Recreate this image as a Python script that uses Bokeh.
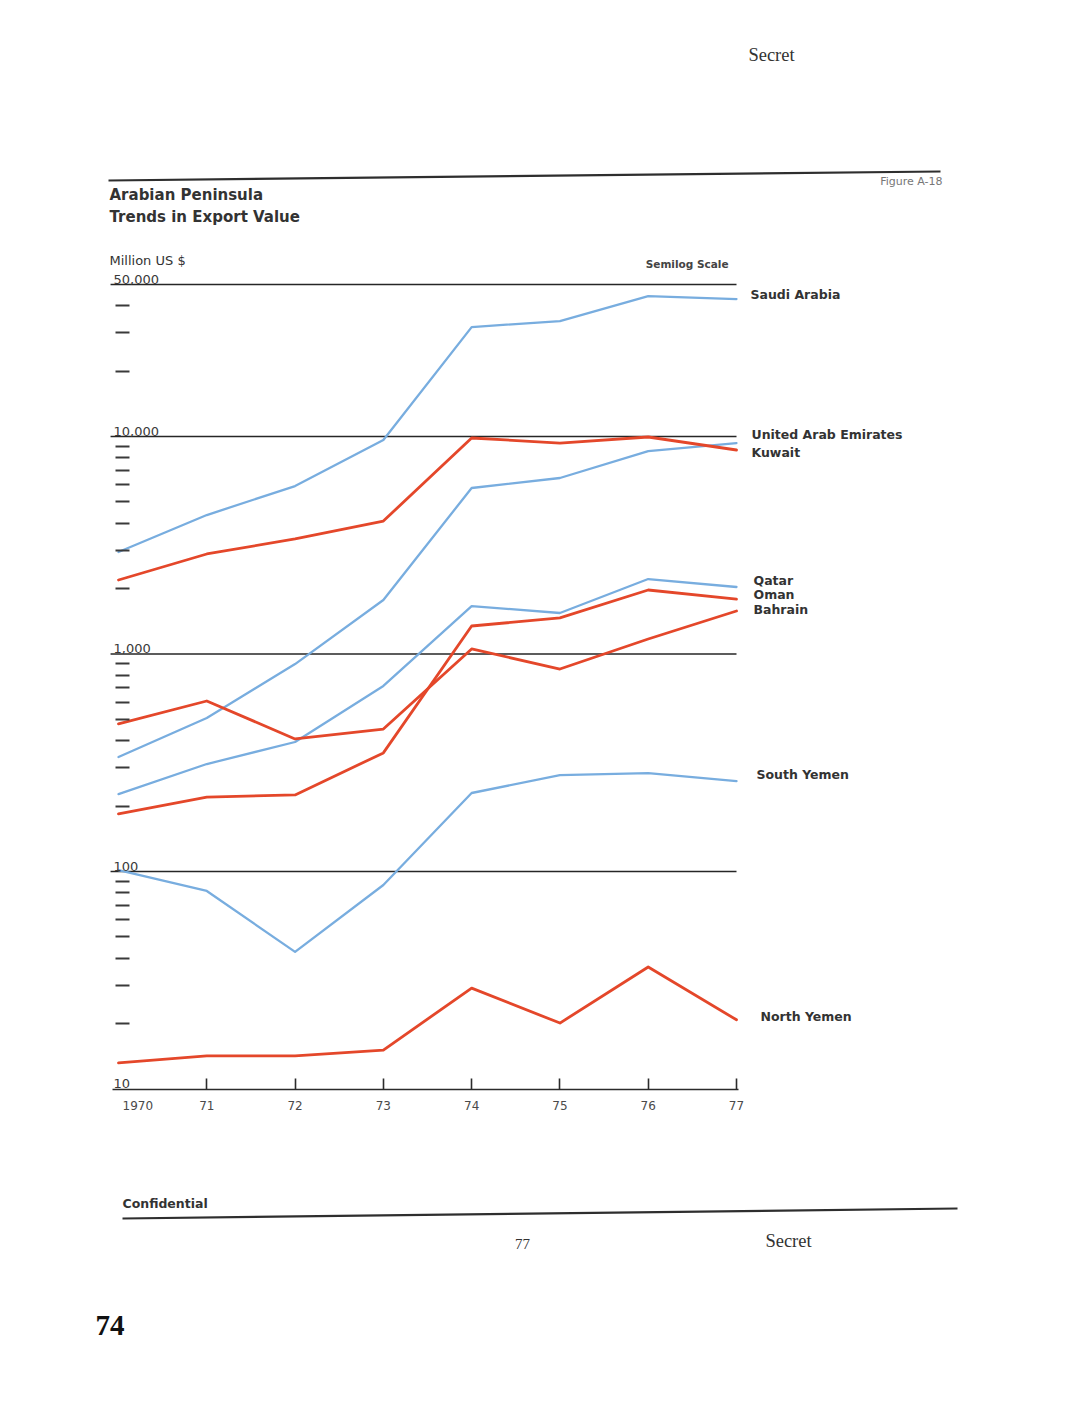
import math
from bokeh.plotting import figure
from bokeh.models import (Range1d, LinearAxis, LogAxis, FixedTicker,
                          CustomJSTickFormatter)
from bokeh.core.properties import value
from bokeh.embed import file_html
from bokeh.resources import INLINE

# ---------------- data ----------------
years = [1970, 1971, 1972, 1973, 1974, 1975, 1976, 1977]
year_labels = ["1970", "71", "72", "73", "74", "75", "76", "77"]

saudi_arabia = [2945, 4355, 5920, 9640, 31850, 33960, 44250, 42870]
kuwait = [2190, 2884, 3380, 4087, 9845, 9333, 9950, 8670]
uae = [336, 508, 899, 1771, 5799, 6447, 8576, 9333]
qatar = [227, 312, 394, 713, 1662, 1544, 2212, 2033]
oman = [184, 220, 225, 351, 1345, 1465, 1969, 1790]
bahrain = [477, 608, 407, 452, 1055, 853, 1172, 1577]
south_yemen = [101.6, 81.4, 42.7, 86.7, 229.6, 277.6, 283.6, 260.6]
north_yemen = [13.2, 14.2, 14.2, 15.1, 29.1, 20.1, 36.4, 20.8]

y_major = [10, 100, 1000, 10000, 50000]
y_major_labels = ["10", "100", "1,000", "10,000", "50,000"]
y_grid_ticks = [100, 1000, 10000, 50000]
y_minor = [20, 30, 40, 50, 60, 70, 80, 90,
           200, 300, 400, 500, 600, 700, 800, 900,
           2000, 3000, 4000, 5000, 6000, 7000, 8000, 9000,
           20000, 30000, 40000]

BLUE = "#78addf"
RED = "#e4472a"
series = [
    ("Saudi Arabia", saudi_arabia, BLUE),
    ("United Arab Emirates", uae, BLUE),
    ("Qatar", qatar, BLUE),
    ("South Yemen", south_yemen, BLUE),
    ("Kuwait", kuwait, RED),
    ("Oman", oman, RED),
    ("Bahrain", bahrain, RED),
    ("North Yemen", north_yemen, RED),
]

# ---------------- page geometry ----------------
W, H = 1051, 1387
OFF = 0.0                        # canvas origin on the page
X1970, X1977 = 118.0, 736.0      # canvas px of 1970 / 1977
Y10, Y50K = 1088.5, 284.0         # canvas px of 10 / 50,000
PPY = (X1977 - X1970) / 7.0
PPD = (Y10 - Y50K) / (math.log10(50000) - 1)
x_start = 1970 - X1970 / PPY
x_end = x_start + W / PPY
log_top = 1 + Y10 / PPD
log_bot = 1 - (H - Y10) / PPD


def page(xp, yp):
    """page pixel position -> data coordinates"""
    cx, cy = xp - OFF, yp - OFF
    return x_start + cx / PPY, 10 ** (log_top - cy / PPD)


p = figure(width=W, height=H,
           x_range=Range1d(x_start, x_end),
           y_range=Range1d(10 ** log_bot, 10 ** log_top),
           y_axis_type="log", x_axis_location=None, y_axis_location=None,
           toolbar_location=None, output_backend="svg", min_border=0,
           outline_line_color=None, background_fill_color="white",
           border_fill_color="white")
p.xgrid.visible = False
p.ygrid.visible = False

SANS = "DejaVu Sans"
SERIF = "Liberation Serif"
INK = "#333333"

# horizontal rules at the major decades, spanning the year axis
p.segment(x0=[1969.91] * len(y_grid_ticks), y0=y_grid_ticks,
          x1=[1977.0] * len(y_grid_ticks), y1=y_grid_ticks,
          line_color="#262626", line_width=1.6)

yax = LogAxis(fixed_location=1970, bounds=(10, 50000),
              ticker=FixedTicker(ticks=y_major, minor_ticks=y_minor),
              formatter=CustomJSTickFormatter(code="return ''"),
              axis_line_color=None, major_tick_line_color=None,
              minor_tick_line_color="#3a3a3a", minor_tick_line_width=2,
              minor_tick_in=11, minor_tick_out=3)
p.add_layout(yax, "left")

# year labels 71..77 on the axis; "1970" sits a little right of its tick
xlab = LinearAxis(fixed_location=10, bounds=(1969.93, 1977.02),
                  ticker=FixedTicker(ticks=years[1:]),
                  major_label_overrides={y: l for y, l in zip(years, year_labels)},
                  major_tick_line_color=None, major_tick_out=0, major_tick_in=0,
                  axis_line_color="#2b2b2b", axis_line_width=1.6,
                  major_label_text_font=SANS, major_label_text_font_size="12px",
                  major_label_text_color="#4a4a4a", major_label_standoff=12)
p.add_layout(xlab, "below")

xtick = LinearAxis(fixed_location=10, bounds=(1969.93, 1977.02),
                   ticker=FixedTicker(ticks=years[1:]),
                   formatter=CustomJSTickFormatter(code="return ''"),
                   axis_line_color=None, major_tick_line_color="#2b2b2b",
                   major_tick_line_width=1.6, major_tick_in=11, major_tick_out=0)
p.add_layout(xtick, "below")

p.text(x=[years[0]], y=[y_major[0]], text=[year_labels[0]],
       text_font=value(SANS), text_font_size="12px", text_color="#4a4a4a",
       text_align="left", text_baseline="top", x_offset=4, y_offset=12)

# ---------------- data lines ----------------
for name, vals, col in series:
    p.line(years, vals, line_color=col, line_width=2.8 if col == RED else 2.3,
           line_join="round", line_cap="round")

# y tick labels
p.text(x=[1970] * len(y_major), y=y_major, text=y_major_labels,
       text_font=value(SANS), text_font_size="13px", text_color="#3a3a3a",
       text_align="left", text_baseline="bottom", x_offset=-5, y_offset=-1)


def add_text(xp, yp, txt, size, font=SANS, style="normal", color=INK,
             align="left", baseline="middle"):
    x, y = page(xp, yp)
    p.text(x=[x], y=[y], text=[txt], text_font=value(font),
           text_font_size=size, text_font_style=style, text_color=color,
           text_align=align, text_baseline=baseline)


def add_rule(x0, y0, x1, y1, width=2.2):
    a = page(x0, y0)
    b = page(x1, y1)
    p.line([a[0], b[0]], [a[1], b[1]], line_color="#2e2e2e", line_width=width)


# series labels
label_pos = {
    "Saudi Arabia": (750, 294),
    "United Arab Emirates": (751, 434),
    "Kuwait": (751, 452),
    "Qatar": (753, 580),
    "Oman": (753, 594),
    "Bahrain": (753, 609),
    "South Yemen": (756, 774),
    "North Yemen": (760, 1016),
}
for name, (xp, yp) in label_pos.items():
    add_text(xp, yp, name, "12.5px", style="bold")

# page furniture
add_text(771, 54, "Secret", "18.5px", font=SERIF, align="center")
add_rule(108, 180, 940, 171)
add_text(942, 181, "Figure A-18", "11px", color="#777777", align="right")
add_text(109, 194, "Arabian Peninsula", "15px", style="bold")
add_text(109, 216, "Trends in Export Value", "15px", style="bold")
add_text(109, 260, "Million US $", "13px")
add_text(728, 263, "Semilog Scale", "10.5px", style="bold", color="#444444",
         align="right")
add_text(122, 1203, "Confidential", "12.5px", style="bold")
add_rule(122, 1218, 957, 1208)
add_text(522, 1243, "77", "15px", font=SERIF, align="center")
add_text(788, 1240, "Secret", "18.5px", font=SERIF, align="center")
add_text(95, 1325, "74", "29px", font=SERIF, style="bold", color="#111111")

open("out.html", "w").write(file_html(p, INLINE))
